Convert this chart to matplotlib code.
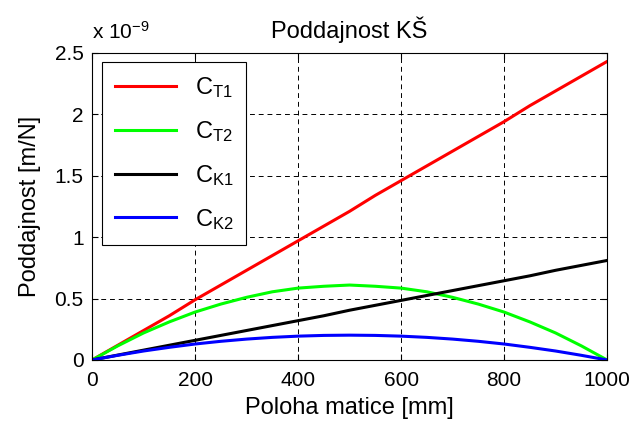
import numpy as np
import matplotlib.pyplot as plt

plt.rcParams['font.family'] = ['Liberation Sans', 'DejaVu Sans']
plt.rcParams['mathtext.fontset'] = 'custom'
plt.rcParams['mathtext.rm'] = 'Liberation Sans'
plt.rcParams['mathtext.it'] = 'Liberation Sans'

# poloha matice [mm]
poloha = [0, 50, 100, 150, 200, 250, 300, 350, 400, 450, 500,
          550, 600, 650, 700, 750, 800, 850, 900, 950, 1000]
# poddajnosti [x 1e-9 m/N]
c_t1 = [0.0, 0.12, 0.24, 0.36, 0.49, 0.61, 0.73, 0.85, 0.97, 1.09, 1.21,
        1.34, 1.46, 1.58, 1.70, 1.82, 1.94, 2.07, 2.19, 2.31, 2.43]
c_t2 = [0.0, 0.115, 0.22, 0.31, 0.39, 0.455, 0.51, 0.555, 0.585, 0.60, 0.61,
        0.60, 0.585, 0.555, 0.51, 0.455, 0.39, 0.31, 0.22, 0.115, 0.0]
c_k1 = [0.0, 0.04, 0.08, 0.12, 0.16, 0.20, 0.24, 0.28, 0.32, 0.36, 0.405,
        0.445, 0.485, 0.525, 0.565, 0.605, 0.645, 0.685, 0.73, 0.77, 0.81]
c_k2 = [0.0, 0.038, 0.073, 0.103, 0.13, 0.152, 0.17, 0.184, 0.194, 0.2, 0.202,
        0.2, 0.194, 0.184, 0.17, 0.152, 0.13, 0.103, 0.073, 0.038, 0.0]
labels = [r'$\mathregular{C_{T1}}$', r'$\mathregular{C_{T2}}$',
          r'$\mathregular{C_{K1}}$', r'$\mathregular{C_{K2}}$']

fig = plt.figure(figsize=(6.35, 4.23), dpi=100)
ax = fig.add_axes([0.145, 0.149, 0.811, 0.726])

ax.plot(poloha, c_t1, color='#ff0000', lw=2.2, label=labels[0])
ax.plot(poloha, c_t2, color='#00ff00', lw=2.2, label=labels[1])
ax.plot(poloha, c_k1, color='black', lw=2.2, label=labels[2])
ax.plot(poloha, c_k2, color='#0000ff', lw=2.2, label=labels[3])

ax.set_xlim(0, 1000)
ax.set_ylim(0, 2.5)
ax.set_xticks(np.arange(0, 1001, 200))
ax.set_yticks([0, 0.5, 1, 1.5, 2, 2.5])
ax.set_yticklabels(['0', '0.5', '1', '1.5', '2', '2.5'])
ax.tick_params(direction='in', top=True, right=True, length=4, labelsize=15)
ax.tick_params(axis='x', pad=8)
ax.tick_params(axis='y', pad=6)
ax.grid(True, color='black', linestyle=(0, (5, 4)), linewidth=0.7)
for s in ax.spines.values():
    s.set_linewidth(0.8)

ax.set_title('Poddajnost KŠ', fontsize=17, pad=11)
ax.set_xlabel('Poloha matice [mm]', fontsize=17, labelpad=5)
ax.set_ylabel('Poddajnost [m/N]', fontsize=17, labelpad=10)
ax.text(0.0, 1.045, r'x 10$^{\mathregular{-9}}$', transform=ax.transAxes, fontsize=15,
        ha='left', va='baseline')

leg = ax.legend(loc='upper left', fontsize=17, frameon=True, fancybox=False,
                edgecolor='black', framealpha=1, handlelength=2.6, borderpad=0.55,
                labelspacing=0.8, borderaxespad=0.4)
leg.get_frame().set_linewidth(0.8)

fig.savefig('out.png', dpi=100)
